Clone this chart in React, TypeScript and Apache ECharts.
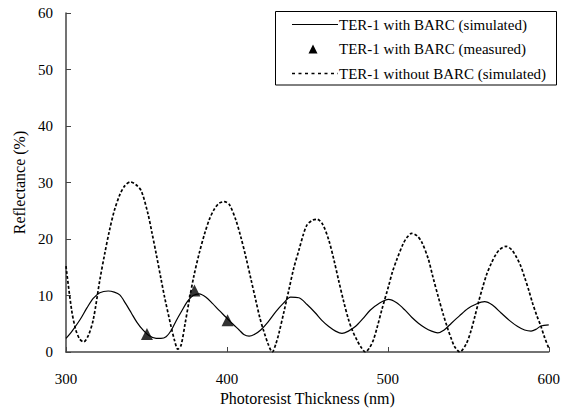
import React, { useEffect, useRef } from "react";
import * as echarts from "echarts";

const SERIES_SIM = "TER-1 with BARC (simulated)";
const SERIES_MEAS = "TER-1 with BARC (measured)";
const SERIES_NOBARC = "TER-1 without BARC (simulated)";

const xTicks = [300, 400, 500, 600];

// TER-1 with BARC (simulated): thickness (nm) and reflectance (%)
const barcSimX = [300, 304, 308.7, 313, 316.9, 321, 326.2, 330, 333.4, 337, 340.6, 344, 347.8, 351.5, 356, 359, 362.2, 365.5, 368.4, 372, 375.6, 379, 382.8, 387, 391, 395, 399.3, 403.5, 407.6, 410.5, 413.8, 417, 421, 425.5, 430.3, 435, 439.6, 444.7, 449.8, 455, 459, 463.3, 467.5, 471.5, 475.5, 479.8, 484.5, 489, 494.5, 500.4, 505.5, 510.7, 515, 519, 523, 527.2, 531, 535, 539.5, 544.5, 549.8, 555, 560.1, 565, 570.4, 575.5, 580.7, 585, 589, 592, 595.2, 600];
const barcSimY = [2.4, 3.8, 5.7, 7.8, 9.5, 10.5, 10.8, 10.6, 10.1, 8.6, 6.9, 5.3, 3.9, 2.9, 2.4, 2.4, 2.7, 3.9, 5.5, 7.3, 9.0, 10.0, 10.3, 9.7, 8.6, 7.4, 6.2, 5.0, 3.9, 3.1, 2.8, 3.1, 3.9, 5.3, 7.1, 8.6, 9.7, 9.6, 8.4, 6.9, 5.6, 4.5, 3.7, 3.3, 3.7, 4.5, 5.9, 7.4, 8.6, 9.3, 8.7, 7.4, 6.1, 5.1, 4.3, 3.7, 3.4, 3.9, 5.1, 6.4, 7.7, 8.5, 8.9, 8.3, 6.9, 5.6, 4.5, 3.9, 3.7, 4.0, 4.6, 4.8];

// TER-1 with BARC (measured)
const barcMeasX = [350.3, 379.8, 400.4];
const barcMeasY = [3.2, 10.9, 5.6];

// TER-1 without BARC (simulated)
const noBarcX = [300, 303.5, 306, 308.5, 311, 314, 317, 321, 324, 327, 330, 333.4, 336.5, 340, 343.5, 346.8, 350.9, 353.5, 356.1, 359, 361.2, 365.3, 367.5, 369.5, 371.5, 374, 376.6, 379.5, 382.8, 386, 389, 392, 395, 398.3, 401.5, 405.5, 408.5, 411.7, 415, 417.9, 420.5, 423, 425.5, 428.2, 430.5, 432.3, 435.5, 438.5, 441.5, 444.7, 447.5, 449.8, 453, 456, 459.5, 463.3, 466.5, 469.4, 472.5, 475.6, 478, 480.8, 483.5, 486, 488.5, 491, 493.5, 496.2, 500.4, 503, 505.5, 509.6, 512, 514.8, 518, 521, 525.1, 528, 531.3, 534.5, 537.5, 539.5, 541.6, 544.7, 548.8, 551.5, 554, 556.5, 559.1, 561.5, 564.3, 567, 569.4, 573.5, 577, 579.7, 582.5, 584.9, 587.5, 590, 592.5, 595.2, 597.5, 600];
const noBarcY = [15.2, 7.4, 4.0, 2.3, 1.8, 3.0, 5.8, 12.7, 17.3, 21.5, 25.0, 27.8, 29.4, 30.1, 29.6, 28.5, 24.5, 21.0, 17.3, 13.0, 9.8, 4.5, 2.0, 0.5, 1.2, 5.0, 9.2, 13.5, 17.5, 20.8, 23.4, 25.2, 26.3, 26.6, 26.1, 23.4, 20.5, 16.9, 12.8, 9.2, 6.0, 3.6, 1.5, 0.0, 1.5, 3.3, 7.2, 11.0, 14.8, 18.0, 20.8, 22.5, 23.3, 23.5, 22.6, 19.8, 16.3, 12.7, 9.0, 5.7, 3.8, 2.1, 0.8, 0.0, 0.7, 2.1, 4.5, 7.4, 11.6, 14.3, 16.3, 19.2, 20.3, 21.0, 20.6, 19.5, 16.5, 13.3, 9.8, 6.6, 3.9, 2.3, 0.9, 0.0, 1.5, 3.6, 6.2, 9.0, 11.6, 13.8, 15.7, 17.2, 18.1, 18.7, 18.1, 16.9, 15.3, 13.3, 11.0, 8.6, 6.5, 4.5, 2.5, 0.7];

const pairs = (xs: number[], ys: number[]) => xs.map((x, i) => [x, ys[i]]);

const FONT = "Times New Roman, Liberation Serif, DejaVu Serif, serif";

export default function App() {
  const ref = useRef<HTMLDivElement>(null);
  useEffect(() => {
    if (!ref.current) return;
    const chart = echarts.init(ref.current, undefined, { renderer: "svg" });
    const legendText = (text: string, y: number) => ({
      type: "text",
      x: 339,
      y,
      style: { text, fontFamily: FONT, fontSize: 15, fill: "#000", verticalAlign: "middle" },
      z: 101,
    });
    chart.setOption({
      animation: false,
      backgroundColor: "#fff",
      textStyle: { fontFamily: FONT, color: "#000" },
      grid: { left: 66, right: 11, top: 13, bottom: 60 },
      graphic: [
        {
          type: "rect",
          shape: { x: 275.5, y: 11.5, width: 281, height: 73.5 },
          style: { fill: "#fff", stroke: "#000", lineWidth: 1 },
          z: 100,
        },
        {
          type: "line",
          shape: { x1: 292, y1: 24.5, x2: 338, y2: 24.5 },
          style: { stroke: "#000", lineWidth: 1.2 },
          z: 101,
        },
        {
          type: "polygon",
          shape: { points: [[308.5, 53.5], [317.5, 53.5], [313, 44.5]] },
          style: { fill: "#000" },
          z: 101,
        },
        {
          type: "line",
          shape: { x1: 292, y1: 73.5, x2: 338, y2: 73.5 },
          style: { stroke: "#000", lineWidth: 1.6, lineDash: [3, 3.5] },
          z: 101,
        },
        legendText(SERIES_SIM, 24.5),
        legendText(SERIES_MEAS, 49),
        legendText(SERIES_NOBARC, 73.5),
      ],
      xAxis: {
        type: "value",
        min: xTicks[0],
        max: xTicks[xTicks.length - 1],
        interval: 100,
        name: "Photoresist Thickness (nm)",
        nameLocation: "middle",
        nameGap: 37,
        nameTextStyle: { fontFamily: FONT, fontSize: 16, color: "#000" },
        axisLine: { show: true, lineStyle: { color: "#444", width: 1.5 } },
        axisTick: { show: true, inside: true, length: 5, lineStyle: { color: "#444" } },
        axisLabel: { fontFamily: FONT, fontSize: 15, color: "#000", margin: 19 },
        splitLine: { show: false },
      },
      yAxis: {
        type: "value",
        min: 0,
        max: 60,
        interval: 10,
        name: "Reflectance (%)",
        nameLocation: "middle",
        nameGap: 38,
        nameTextStyle: { fontFamily: FONT, fontSize: 16, color: "#000" },
        axisLine: { show: true, lineStyle: { color: "#444", width: 1.5 } },
        axisTick: { show: true, inside: true, length: 5, lineStyle: { color: "#444" } },
        axisLabel: { fontFamily: FONT, fontSize: 15, color: "#000", margin: 13 },
        splitLine: { show: false },
      },
      series: [
        {
          name: SERIES_SIM,
          type: "line",
          data: pairs(barcSimX, barcSimY),
          smooth: 0.3,
          symbol: "none",
          showSymbol: false,
          lineStyle: { color: "#000", width: 1.2 },
          itemStyle: { color: "#000" },
          z: 3,
        },
        {
          name: SERIES_NOBARC,
          type: "line",
          data: pairs(noBarcX, noBarcY),
          smooth: 0.3,
          symbol: "none",
          showSymbol: false,
          lineStyle: { color: "#000", width: 1.7, type: [3, 2] },
          itemStyle: { color: "#000" },
          z: 2,
        },
        {
          name: SERIES_MEAS,
          type: "scatter",
          data: pairs(barcMeasX, barcMeasY),
          symbol: "triangle",
          symbolSize: 12,
          itemStyle: { color: "#000" },
          z: 4,
        },
      ],
    });
    return () => chart.dispose();
  }, []);
  return <div ref={ref} style={{ width: 563, height: 412, position: "absolute", left: 0, top: 0 }} />;
}
